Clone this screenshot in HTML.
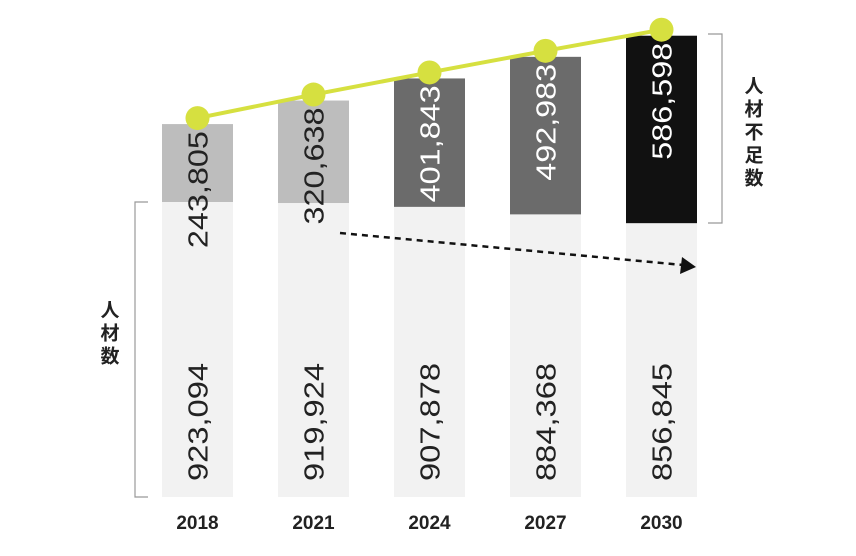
<!DOCTYPE html>
<html><head><meta charset="utf-8"><style>
body{margin:0;background:#fff}
svg{display:block;font-family:"Liberation Sans","Noto Sans CJK JP",sans-serif}
</style></head><body>
<svg id="c" width="856" height="556" viewBox="0 0 856 556">
<g id="bars"></g>
<g id="line"></g>
<g fill="none" stroke="#999" stroke-width="1.2">
<path d="M148 202 H135 V497 H148"/></g>
<text x="108" y="300" font-size="19" font-weight="bold" fill="#222" style="writing-mode:vertical-rl;letter-spacing:4px">人材数</text>
<g fill="none" stroke="#999" stroke-width="1.2">
<path d="M708 34 H722 V223 H708"/></g>
<text x="752" y="76" font-size="19" font-weight="bold" fill="#222" style="writing-mode:vertical-rl;letter-spacing:4px">人材不足数</text>
<g>
<line x1="340" y1="233" x2="683" y2="265" stroke="#111" stroke-width="2.5" stroke-dasharray="6 5"/>
<polygon points="696,267 682,257 680,274" fill="#111"/></g>
</svg>
<script>
const years=["2018","2021","2024","2027","2030"];
const talent=[923094,919924,907878,884368,856845];
const shortage=[243805,320638,401843,492983,586598];
const shortageColors=["#bdbdbd","#bdbdbd","#6b6b6b","#6b6b6b","#111111"];
const NS="http://www.w3.org/2000/svg";
const base=497, k=295/923094, x0=197.5, step=116, bw=71;
const X=i=>x0+i*step, Y=v=>base-v*k;
const svg=document.getElementById('bars'), lg=document.getElementById('line');
function mk(tag,attrs,parent){const e=document.createElementNS(NS,tag);for(const a in attrs)e.setAttribute(a,attrs[a]);parent.appendChild(e);return e;}
const fmt=v=>v.toLocaleString('en-US');
const pts=[];
years.forEach((y,i)=>{
 const cx=X(i), tTop=Y(talent[i]), sTop=tTop-shortage[i]*k;
 const r1=mk('rect',{x:cx-bw/2,y:tTop,width:bw,height:base-tTop,fill:'#f2f2f2'},svg);
 
 
 const r2=mk('rect',{x:cx-bw/2,y:sTop,width:bw,height:tTop-sTop,fill:shortageColors[i]},svg);
 
 
 const t1=mk('text',{transform:`translate(${cx+10},422) rotate(-90)`,'text-anchor':'middle','font-size':'28',fill:'#222',textLength:'118',lengthAdjust:'spacingAndGlyphs'},svg);
 t1.textContent=fmt(talent[i]);
 
 
 const t2=mk('text',{transform:`translate(${cx+10},${sTop+7}) rotate(-90)`,'text-anchor':'end','font-size':'28',fill:i<2?'#222':'#fff',textLength:'117',lengthAdjust:'spacingAndGlyphs'},svg);
 t2.textContent=fmt(shortage[i]);
 
 
 const xl=mk('text',{x:cx,y:529,'text-anchor':'middle','font-size':'19','font-weight':'bold',fill:'#222'},svg);
 xl.textContent=y;
 
 
 pts.push([cx,sTop-6]);
});
const pl=mk('polyline',{points:pts.map(p=>p.join(',')).join(' '),fill:'none',stroke:'#d6e040','stroke-width':'4'},lg);


pts.forEach((p,i)=>{
 const c=mk('circle',{cx:p[0],cy:p[1],r:12,fill:'#d6e040'},lg);
 
 
});
</script>
</body></html>
